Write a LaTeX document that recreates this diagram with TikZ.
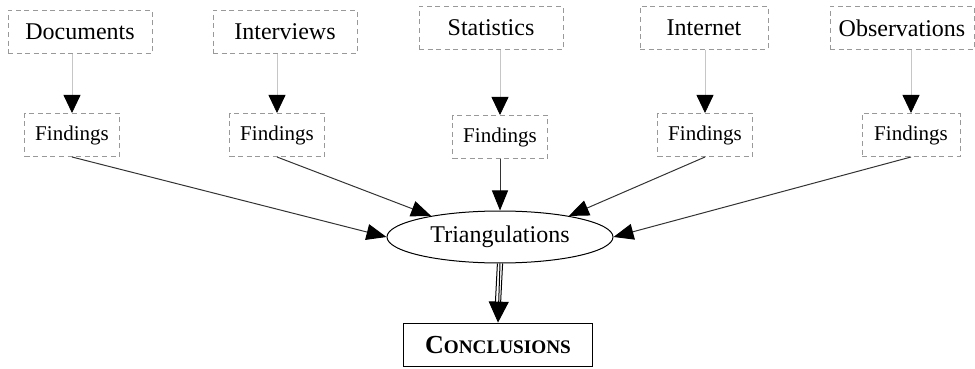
\documentclass[tikz,border=0pt]{standalone}
\usepackage{fontspec}
\setmainfont{Liberation Serif}
\usepackage{tikz}
\usetikzlibrary{calc,arrows.meta,shapes.geometric}
\newcommand{\conclsc}{\textbf{\fontsize{13}{15}\selectfont C\fontsize{9.6}{12}\selectfont ONCLUSIONS}}
\tikzset{
  srcbox/.style={draw=gray!80, dash pattern=on 2.5pt off 1.8pt, line width=0.5pt,
    minimum width=72pt, minimum height=21.5pt, inner sep=0pt, font=\fontsize{12}{14}\selectfont},
  findbox/.style={draw=gray!80, dash pattern=on 2.5pt off 1.8pt, line width=0.5pt,
    minimum width=47.5pt, minimum height=21.5pt, inner sep=0pt, font=\fontsize{10.5}{12}\selectfont},
  srcarrow/.style={draw=gray!45, line width=0.4pt,
    -{Triangle[width=8.5pt,length=9pt,fill=black,color=black]}},
  findarrow/.style={draw=black!80, line width=0.5pt,
    -{Triangle[width=8pt,length=10pt,fill=black,color=black]}},
}

\begin{document}
\begin{tikzpicture}[x=0.5pt,y=-0.5pt]
    \useasboundingbox (0,0) rectangle (975,369);

    \node[srcbox] (doc) at (80,32) {Documents};
    \node[srcbox] (int) at (285,32) {Interviews};
    \node[srcbox] (sta) at (491,28) {Statistics};
    \node[srcbox, minimum width=64pt] (net) at (704,28) {Internet};
    \node[srcbox] (obs) at (902,28) {Observations};

    \node[findbox] (fdoc) at (72,135) {Findings};
    \node[findbox] (fint) at (277,135) {Findings};
    \node[findbox] (fsta) at (500,137) {Findings};
    \node[findbox] (fnet) at (705,135) {Findings};
    \node[findbox, minimum width=49pt] (fobs) at (911,135) {Findings};

    \node[draw, ellipse, line width=0.5pt, minimum width=113pt, minimum height=26pt,
      inner sep=0pt, font=\fontsize{12}{14}\selectfont] (tri) at (500,237) {Triangulations};
    \node[draw, line width=0.9pt, minimum width=94.5pt, minimum height=21.5pt,
      inner sep=0pt] (con) at (498,345) {\conclsc};

    % sources to findings
    \path (fdoc.north |- doc.south) edge[srcarrow] (fdoc.north)
      (fint.north |- int.south) edge[srcarrow] (fint.north)
      (fsta.north |- sta.south) edge[srcarrow] (fsta.north)
      (fnet.north |- net.south) edge[srcarrow] (fnet.north)
      (fobs.north |- obs.south) edge[srcarrow] (fobs.north);

    % findings to triangulations
    \path (fdoc.south) edge[findarrow] (tri.west)
      (fint.south) edge[findarrow] (tri.163)
      (fsta.south) edge[findarrow] (tri.north)
      (fnet.south) edge[findarrow] (tri.17)
      (fobs.south) edge[findarrow] (tri.east);

    % triple line to conclusions
    \draw[line width=0.5pt, -{Triangle[width=10pt,length=10.5pt]}] (tri.south) -- (con.north);
    \draw[line width=0.5pt] ($(tri.south)+(-1.3pt,0)$) -- ($(con.north)+(-1.3pt,10pt)$);
    \draw[line width=0.5pt] ($(tri.south)+(1.3pt,0)$) -- ($(con.north)+(1.3pt,10pt)$);
  \end{tikzpicture}
\end{document}
